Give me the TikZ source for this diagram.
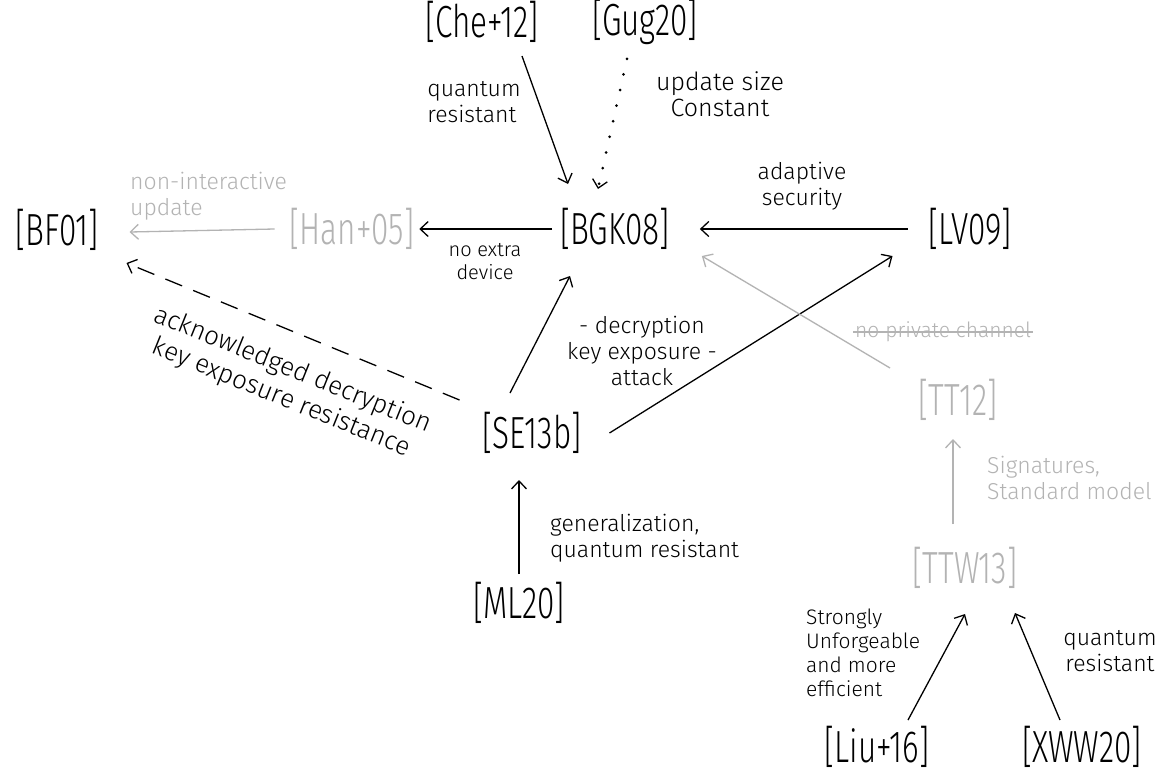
\documentclass[tikz,border=0pt]{standalone}
\usepackage{fontspec}
\usetikzlibrary{arrows.meta}
\newfontfamily\hand{Fira Sans Light}
\newfontfamily\handnarrow{Fira Sans Light}[FakeStretch=0.7]
\definecolor{faded}{HTML}{B3B3B3}

\begin{document}
\begin{tikzpicture}[x=1pt,y=-1pt,
  ref/.style={font=\handnarrow\fontsize{45}{45}\selectfont, inner sep=0pt, outer sep=0pt,
              minimum height=42pt},
  oldref/.style={ref, text=faded},
  lbl/.style={font=\hand\fontsize{23}{26}\selectfont, inner sep=0pt, align=center},
  arr/.style={line width=1.3pt, -{Straight Barb[length=8pt,width=15pt]}},
  fadedarr/.style={arr, draw=faded},
]
\fill[white] (0,0) rectangle (1169,774);
\useasboundingbox (0,0) rectangle (1169,774);

% references
\node[ref, minimum width=125pt] (Che) at (482,22) {[Che+12]};
\node[ref, minimum width=110pt] (Gug) at (645,22) {[Gug20]};
\node[ref, minimum width=105pt] (BGK) at (615,229) {[BGK08]};
\node[ref, minimum width=105pt] (LV) at (970,229) {[LV09]};
\node[oldref, minimum width=117pt] (Han) at (352,229) {[Han+05]};
\node[ref, minimum width=95pt] (BF) at (57,230) {[BF01]};
\node[ref, minimum width=105pt] (SE) at (532,433) {[SE13b]};
\node[oldref, minimum width=92pt] (TT) at (958,400) {[TT12]};
\node[oldref, minimum width=110pt] (TTW) at (965,568) {[TTW13]};
\node[ref, minimum width=98pt] (ML) at (519,603) {[ML20]};
\node[ref, minimum width=106pt] (Liu) at (877,747) {[Liu+16]};
\node[ref, minimum width=115pt] (XWW) at (1082,747) {[XWW20]};

% connectors
\draw[arr] ([xshift=40pt,yshift=-13pt]Che.south) -- ([xshift=-47pt,yshift=24pt]BGK.north);
\draw[arr, line width=3pt, line cap=round, dash pattern=on 0pt off 16pt,
      -{Straight Barb[length=8pt,width=15pt,line width=1.3pt]}]
  ([xshift=-18pt,yshift=-14pt]Gug.south) -- ([xshift=-17pt,yshift=19pt]BGK.north);
\draw[arr] ([xshift=-10pt]LV.west) -- ([xshift=30pt]BGK.east);
\draw[arr] ([xshift=-8pt]BGK.west) -- ([xshift=5pt]Han.east);
\draw[fadedarr] ([xshift=-15pt]Han.west) -- ([xshift=25pt,yshift=-2pt]BF.east);
\draw[arr, dash pattern=on 18pt off 12pt]
  ([xshift=-20pt,yshift=12pt]SE.north west) -- ([xshift=22pt,yshift=-12pt]BF.south east);
\draw[arr] ([xshift=-22pt,yshift=19pt]SE.north) -- ([xshift=-45pt,yshift=-26pt]BGK.south);
\draw[arr] ([xshift=25pt]SE.east) -- ([xshift=-25pt,yshift=-6pt]LV.south west);
\draw[fadedarr] ([xshift=-22pt,yshift=11pt]TT.north west) -- ([xshift=32pt,yshift=-6pt]BGK.south east);
\draw[fadedarr] ([xshift=-12pt,yshift=23pt]TTW.north) -- ([xshift=-5pt,yshift=-18pt]TT.south);
\draw[arr] ([yshift=8pt]ML.north) -- ([xshift=-13pt,yshift=-26pt]SE.south);
\draw[arr] ([xshift=31pt,yshift=6pt]Liu.north) -- ([yshift=-25pt]TTW.south);
\draw[arr] ([xshift=-22pt,yshift=6pt]XWW.north) -- ([xshift=-5pt,yshift=-24pt]TTW.south east);

% labels
\node[lbl, align=left] (lqr1) at (474,102) {quantum\\resistant};
\node[lbl, font=\hand\fontsize{25}{26}\selectfont] (lusc) at (720,94) {update size\\Constant};
\node[lbl] (lad) at (802,186) {adaptive\\security};
\node[lbl, font=\hand\fontsize{20}{23}\selectfont] (lned) at (485,262) {no extra\\device};
\node[lbl, align=left, text=faded, anchor=west] (lni) at (130,196) {non-interactive\\update};
\node[lbl, font=\hand\fontsize{26}{30}\selectfont, rotate=-22] (lack) at (287,384)
  {acknowledged decryption\\key exposure resistance};
\node[lbl] (ldk) at (642,351) {- decryption\\key exposure -\\attack};
\node[lbl, text=faded, anchor=west, font=\hand\fontsize{21}{24}\selectfont] (lnpc) at (855,332)
  {no private channel};
\draw[faded, line width=1.3pt] ([xshift=-2pt]lnpc.west) -- ([xshift=2pt]lnpc.east);
\node[lbl, align=left, text=faded, anchor=west] (lsig) at (987,478) {Signatures,\\Standard model};
\node[lbl, align=left, anchor=west] (lgen) at (550,538) {generalization,\\quantum resistant};
\node[lbl, align=left, anchor=west, font=\hand\fontsize{21}{24}\selectfont] (lsu) at (806,653)
  {Strongly\\Unforgeable\\and more\\efficient};
\node[lbl] (lqr2) at (1110,651) {quantum\\resistant};
\end{tikzpicture}
\end{document}
